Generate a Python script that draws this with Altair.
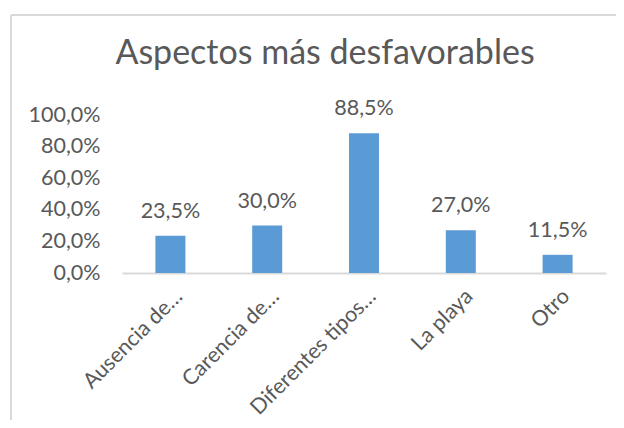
import altair as alt
import pandas as pd

categories = ["Ausencia de…", "Carencia de…", "Diferentes tipos…", "La playa", "Otro"]
values = [0.235, 0.300, 0.885, 0.270, 0.115]
y_ticks = [0, 0.2, 0.4, 0.6, 0.8, 1.0]
title_text = "Aspectos más desfavorables"

df = pd.DataFrame({"cat": categories, "val": values})

FONT = "Lato"
TEXT = "#595959"
GRAY = "#d9d9d9"
FS = 21.5
pct_expr = "replace(format({v}, '.1%'), '.', ',')"

x = alt.X(
    "cat:N", sort=categories,
    scale=alt.Scale(paddingInner=0.69, paddingOuter=0.345),
    axis=alt.Axis(title=None, labelAngle=-45, labelAlign="right", labelBaseline="middle",
                  labelFontSize=FS, labelFont=FONT, labelColor=TEXT, ticks=False,
                  domainColor=GRAY, domainWidth=2, labelPadding=20, labelOffset=9,
                  labelLimit=0, labelOverlap=False),
)
y = alt.Y(
    "val:Q", scale=alt.Scale(domain=[0, 1], nice=False),
    axis=alt.Axis(title=None, values=y_ticks, labelExpr=pct_expr.format(v="datum.value"),
                  domain=False, ticks=False, grid=False, labelFontSize=FS, labelFont=FONT,
                  labelColor=TEXT, labelPadding=22, labelOverlap=False),
)

bars = alt.Chart(df).mark_bar(color="#5b9bd5").encode(x=x, y=y)
labels = alt.Chart(df).transform_calculate(
    lbl=pct_expr.format(v="datum.val")
).mark_text(baseline="alphabetic", dy=-18, fontSize=FS, font=FONT, color=TEXT).encode(
    x=x, y=y, text="lbl:N"
)

frame_df = pd.DataFrame({"a": [0]})
left_line = alt.Chart(frame_df).mark_rule(color=GRAY, strokeWidth=2).encode(
    x=alt.value(-111), y=alt.value(-100), y2=alt.value(305)
)
top_line = alt.Chart(frame_df).mark_rule(color=GRAY, strokeWidth=2).encode(
    x=alt.value(-111), x2=alt.value(494), y=alt.value(-100)
)

chart = alt.layer(left_line, top_line, bars, labels).properties(
    width=484, height=158,
    autosize=alt.AutoSizeParams(type="none"),
    padding={"left": 114, "top": 107, "right": 10, "bottom": 147},
    title=alt.TitleParams(title_text, fontSize=34, font=FONT, color=TEXT,
                          fontWeight="normal", anchor="middle", dx=-39, offset=-84,
                          baseline="alphabetic"),
).configure_view(stroke=None).configure_axis(labelOverlap=False)

chart.save("out.html", embed_options={"renderer": "svg", "actions": False})
